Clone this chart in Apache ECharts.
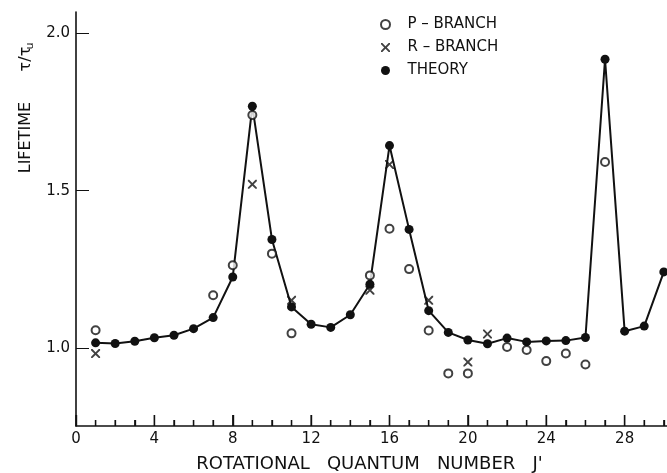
<!DOCTYPE html>
<html>
<head>
  <meta charset="UTF-8">
  <title>Lifetime vs J'</title>
  <script src="https://cdn.jsdelivr.net/npm/echarts@6/dist/echarts.min.js"></script>
  <style>
    html, body { margin: 0; padding: 0; background: #fff; }
    #chart { width: 667px; height: 473px; }
  </style>
</head>
<body>
<div id="chart"></div>
<script>
  // theory curve, J' = 1..30
  const theoryJ = [1, 2, 3, 4, 5, 6, 7, 8, 9, 10, 11, 12, 13, 14, 15, 16, 17, 18, 19, 20, 21, 22, 23, 24, 25, 26, 27, 28, 29, 30];
  const theoryVal = [1.017, 1.015, 1.022, 1.033, 1.041, 1.062, 1.097, 1.226, 1.768, 1.345, 1.131, 1.076, 1.066, 1.106, 1.203,
    1.643, 1.377, 1.119, 1.050, 1.026, 1.014, 1.032, 1.020, 1.023, 1.024, 1.034, 1.917, 1.054, 1.070, 1.242];

  // measured points
  const pJ = [1, 7, 8, 9, 10, 11, 15, 16, 17, 18, 19, 20, 22, 23, 24, 25, 26, 27];
  const pVal = [1.057, 1.168, 1.263, 1.740, 1.300, 1.047, 1.231, 1.379, 1.251, 1.056, 0.920, 0.920, 1.004, 0.994, 0.959, 0.983, 0.948, 1.591];
  const rJ = [1, 9, 11, 15, 16, 18, 20, 21];
  const rVal = [0.983, 1.520, 1.152, 1.184, 1.583, 1.152, 0.956, 1.045];

  // axis ticks and labels
  const xLabels = [0, 4, 8, 12, 16, 20, 24, 28];
  const xTicks = [0, 1, 2, 3, 4, 5, 6, 7, 8, 9, 10, 11, 12, 13, 14, 15, 16, 17, 18, 19, 20, 21, 22, 23, 24, 25, 26, 27, 28, 29, 30];
  const yLabels = [1.0, 1.5, 2.0];
  const Y_MIN = 0.753, Y_MAX = 2.067;

  const FONT = 'DejaVu Sans';
  const crossPath = 'path://M0,0 L3,0 L10,7 L17,0 L20,0 L20,3 L13,10 L20,17 L20,20 L17,20 L10,13 L3,20 L0,20 L0,17 L7,10 L0,3 Z';

  const zip = (xs, ys) => xs.map((x, i) => [x, ys[i]]);

  const chart = echarts.init(document.getElementById('chart'), null, { renderer: 'canvas' });

  // long ticks on labelled J', short elsewhere
  const tickData = xTicks.map(j => [j, xLabels.indexOf(j) >= 0 ? 1 : 0]);

  // x scale runs to 32 so minor ticks land on every J'; the part past 30 is off the canvas
  const option = {
    animation: false,
    textStyle: { fontFamily: FONT, color: '#111' },
    grid: { left: 76, right: -36, top: 12, bottom: 47, outerBoundsMode: 'none' },
    legend: {
      orient: 'vertical',
      left: 375,
      top: 12,
      itemWidth: 34,
      itemHeight: 9,
      itemGap: 8,
      textStyle: { fontFamily: FONT, fontSize: 15, color: '#111' },
      data: [
        { name: 'P – BRANCH', icon: 'emptyCircle' },
        { name: 'R – BRANCH', icon: crossPath },
        { name: 'THEORY', icon: 'circle' }
      ]
    },
    xAxis: {
      type: 'value', min: 0, max: 32, interval: 4,
      name: "ROTATIONAL   QUANTUM   NUMBER   J'",
      nameLocation: 'middle', nameGap: 29,
      nameTextStyle: { fontFamily: FONT, fontSize: 18, color: '#111', padding: [0, 40, 0, 0] },
      splitLine: { show: false },
      axisLine: { show: true, lineStyle: { color: '#111', width: 1.6 } },
      axisTick: { show: true, inside: true, length: 11, lineStyle: { color: '#111', width: 1.4 } },
      minorTick: { show: true, splitNumber: 4, length: 6, lineStyle: { color: '#111', width: 1.3 } },
      axisLabel: { customValues: xLabels, margin: 6, fontSize: 15, color: '#111', fontFamily: FONT }
    },
    yAxis: {
      type: 'value', min: Y_MIN, max: Y_MAX,
      splitLine: { show: false },
      axisLine: { show: true, lineStyle: { color: '#111', width: 1.6 } },
      axisTick: { show: true, inside: true, length: 13, customValues: yLabels },
      axisLabel: {
        customValues: yLabels, margin: 6, fontSize: 15, color: '#111', fontFamily: FONT,
        formatter: v => v.toFixed(1)
      }
    },
    graphic: [
      {
        type: 'text', x: 26, y: 110, rotation: Math.PI / 2,
        style: { text: 'LIFETIME      τ/τ', fontFamily: FONT, fontSize: 16, fill: '#111', align: 'center', verticalAlign: 'middle' }
      },
      {
        type: 'text', x: 30, y: 46, rotation: Math.PI / 2,
        style: { text: 'u', fontFamily: FONT, fontSize: 11, fill: '#111', align: 'center', verticalAlign: 'middle' }
      }
    ],
    series: [
      {
        type: 'custom', data: tickData, silent: true, clip: false, z: 2,
        renderItem: (params, api) => {
          const p = api.coord([api.value(0), Y_MIN]);
          const len = api.value(1) ? 11 : 6;
          return {
            type: 'line',
            shape: { x1: p[0], y1: p[1], x2: p[0], y2: p[1] - len },
            style: { stroke: '#111', lineWidth: 1.3 }
          };
        }
      },
      {
        name: 'THEORY', type: 'line', data: zip(theoryJ, theoryVal),
        symbol: 'circle', symbolSize: 9, showAllSymbol: true,
        lineStyle: { color: '#111', width: 2 },
        itemStyle: { color: '#111' },
        z: 3
      },
      {
        name: 'P – BRANCH', type: 'scatter', data: zip(pJ, pVal),
        symbol: 'emptyCircle', symbolSize: 8,
        itemStyle: { color: '#111', borderColor: '#111', borderWidth: 1.4 },
        z: 4
      },
      {
        name: 'R – BRANCH', type: 'scatter', data: zip(rJ, rVal),
        symbol: crossPath, symbolSize: 9,
        itemStyle: { color: '#111' },
        z: 4
      }
    ]
  };

  chart.setOption(option);
  window.addEventListener('resize', chart.resize);
</script>
</body>
</html>
